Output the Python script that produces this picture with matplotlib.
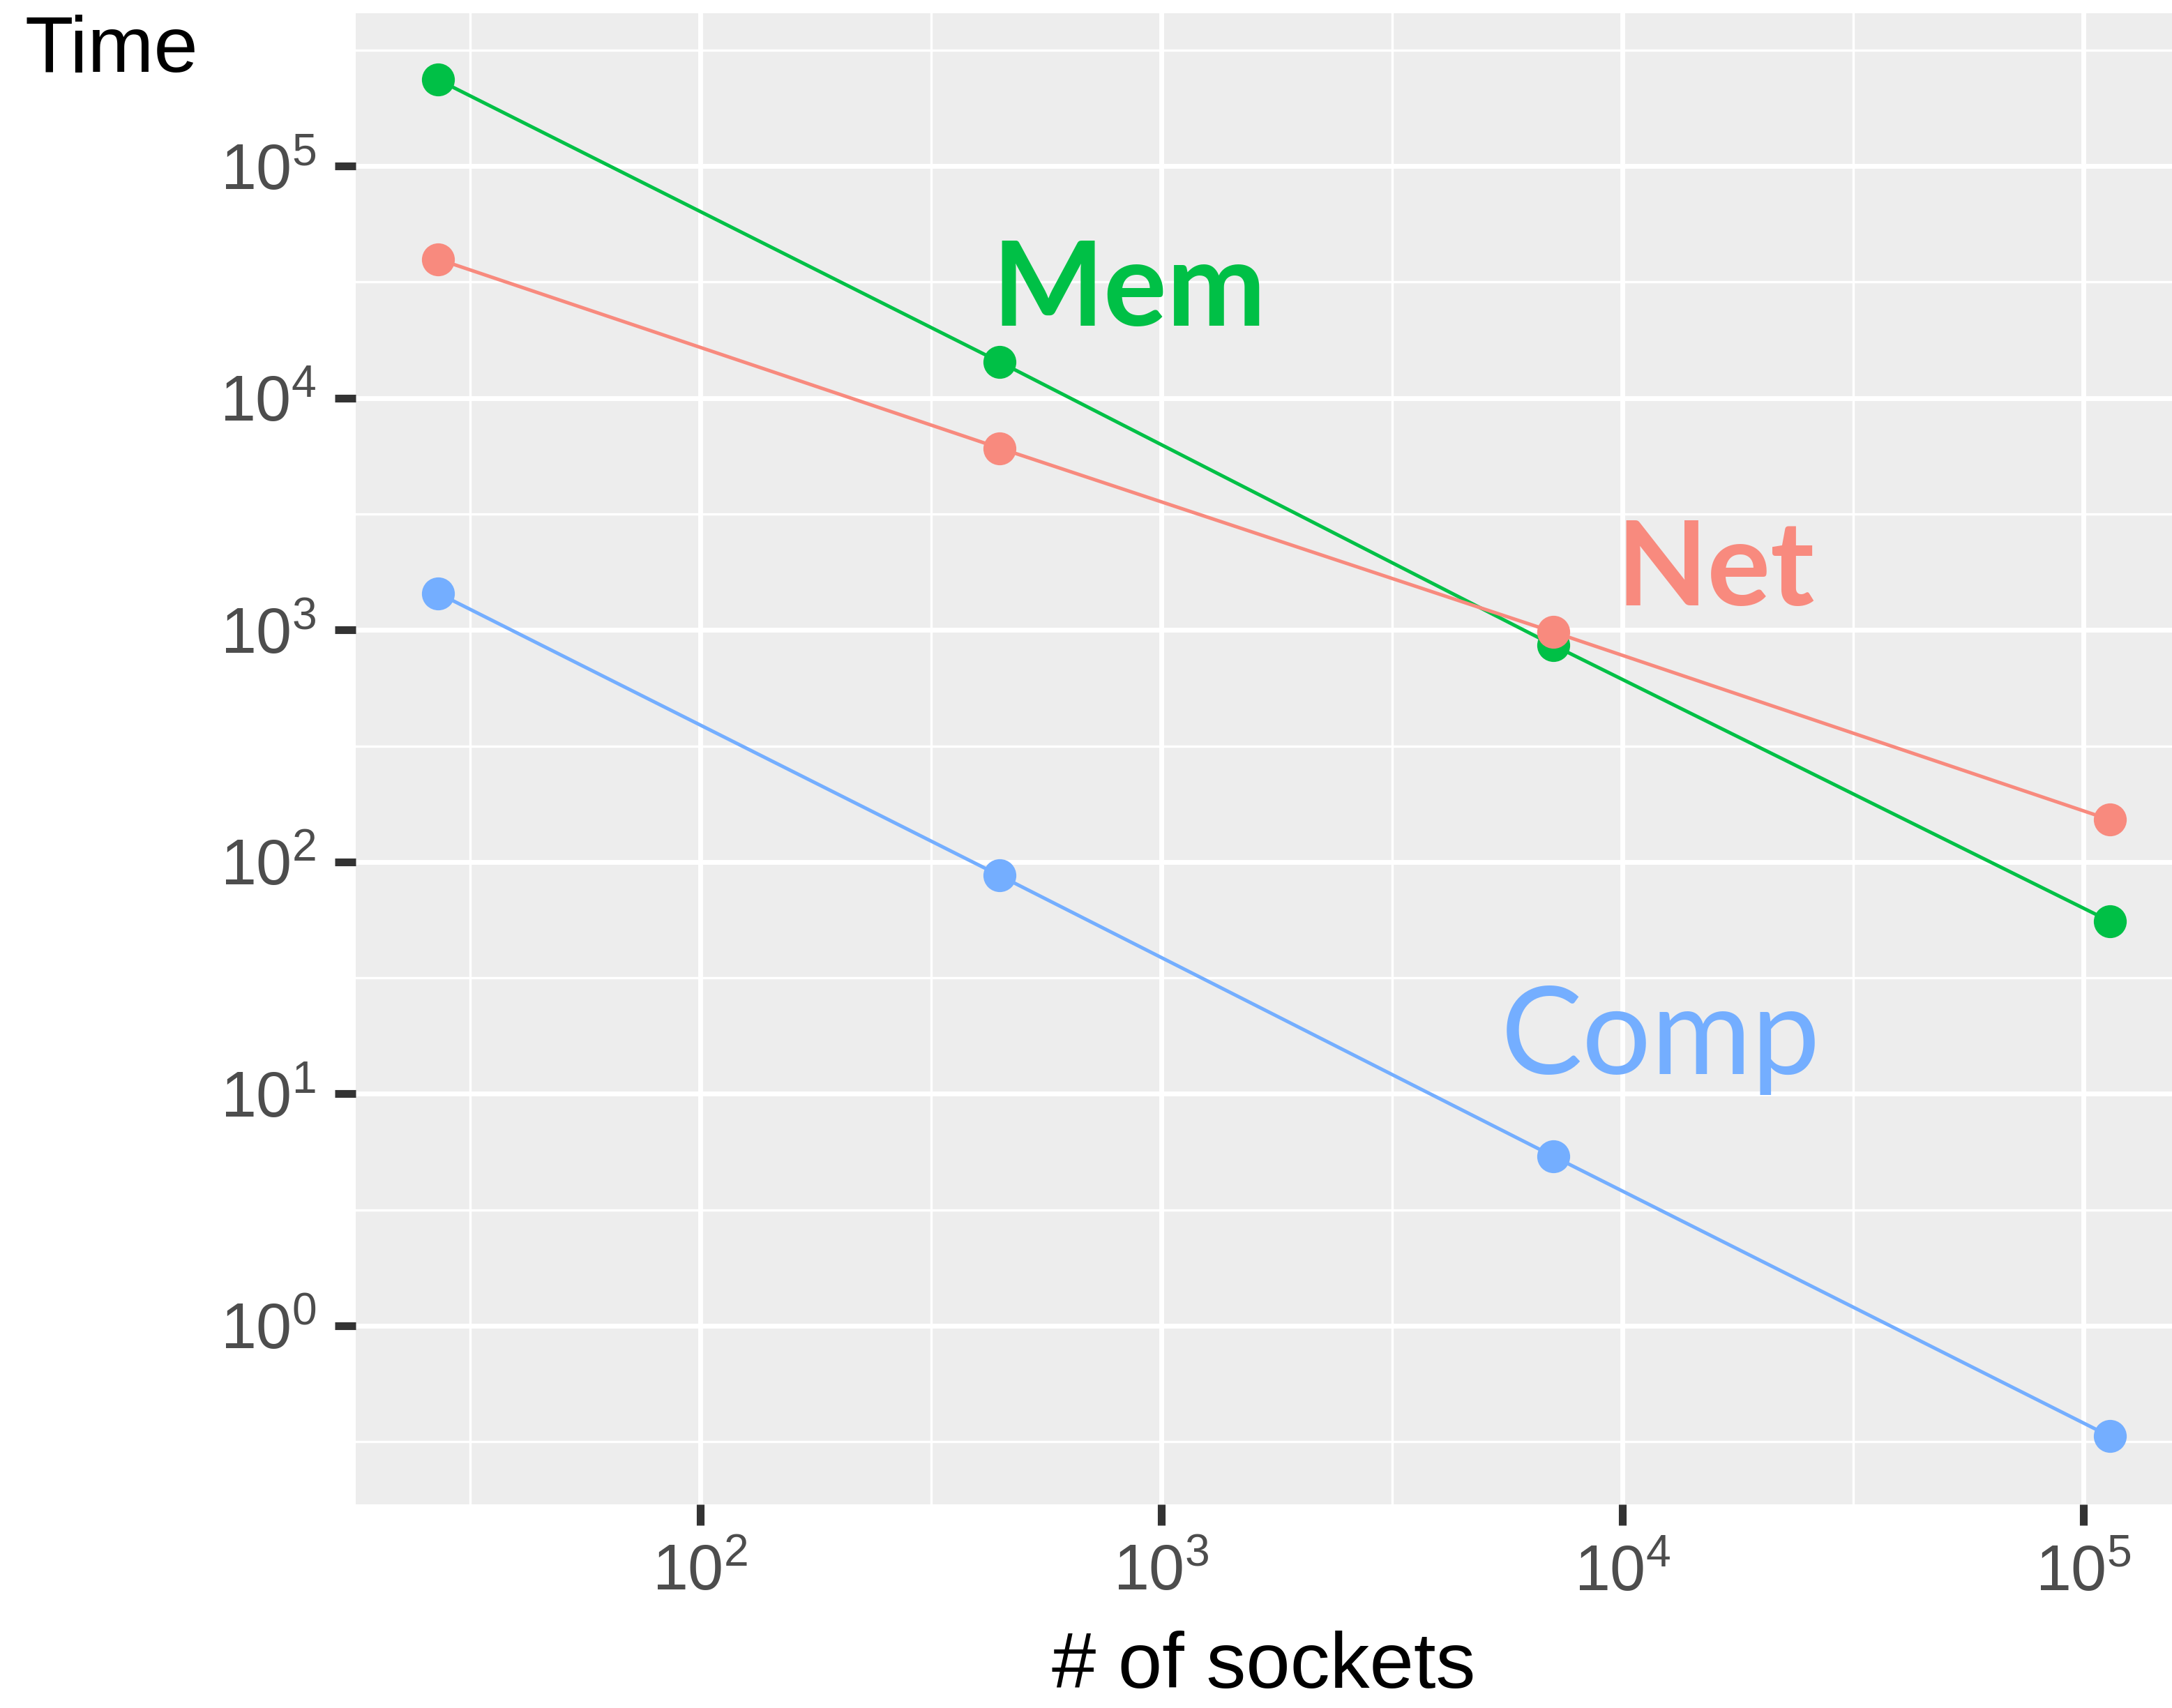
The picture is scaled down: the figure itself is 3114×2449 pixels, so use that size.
import numpy as np
import matplotlib
matplotlib.use("Agg")
import matplotlib.pyplot as plt
from matplotlib.ticker import FixedLocator, FuncFormatter

plt.rcParams['font.family'] = ['Liberation Sans', 'DejaVu Sans']
plt.rcParams['mathtext.default'] = 'regular'

# data
sockets = [27, 446, 7080, 114000]
net = [39700, 6080, 980, 152]
mem = [235600, 14300, 860, 55.5]
comp = [1440, 87.3, 5.38, 0.334]

series_names = ['Comp', 'Mem', 'Net']
series_values = [comp, mem, net]
colors = {'Net': '#F88A7E', 'Mem': '#00C046', 'Comp': '#74AEFF'}

# label anchors (left / baseline), data coords
label_pos = {'Mem': (430, 20500), 'Net': (9700, 1280), 'Comp': (5450, 12.2)}
label_weight = {'Mem': 'bold', 'Net': 'bold', 'Comp': 'normal'}
label_size = {'Mem': 61, 'Net': 61, 'Comp': 63}

W, H = 3114, 2449
dpi = 200
fig = plt.figure(figsize=(W / dpi, H / dpi), dpi=dpi)
ax = fig.add_axes([510 / W, 1 - 2157 / H, (W - 510) / W, (2157 - 19) / H])
ax.set_facecolor('#EDEDED')

ax.set_xscale('log')
ax.set_yscale('log')
ax.set_xlim(10 ** 1.2526, 10 ** 5.192)
ax.set_ylim(10 ** -0.770, 10 ** 5.659)

# lines first, then points (Net ends on top)
for name, vals in zip(series_names, series_values):
    ax.plot(sockets, vals, color=colors[name], lw=1.8, zorder=3)
for name, vals in zip(series_names, series_values):
    ax.plot(sockets, vals, 'o', color=colors[name], ms=17, mec='none', zorder=4)

for name in series_names:
    x, y = label_pos[name]
    ax.text(x, y, name, color=colors[name], fontsize=label_size[name], family='Lato',
            fontweight=label_weight[name], ha='left', va='baseline', zorder=5)

xmaj = [10.0 ** k for k in range(2, 6)]
xmin = [10.0 ** (k + 0.5) for k in range(1, 5)]
ymaj = [10.0 ** k for k in range(0, 6)]
ymin = [10.0 ** (k + 0.5) for k in range(-1, 6)]
fmt = FuncFormatter(lambda v, p: r'$10^{%d}$' % round(np.log10(v)))
ax.xaxis.set_major_locator(FixedLocator(xmaj))
ax.xaxis.set_minor_locator(FixedLocator(xmin))
ax.yaxis.set_major_locator(FixedLocator(ymaj))
ax.yaxis.set_minor_locator(FixedLocator(ymin))
ax.xaxis.set_major_formatter(fmt)
ax.yaxis.set_major_formatter(fmt)
ax.xaxis.set_minor_formatter(FuncFormatter(lambda v, p: ''))
ax.yaxis.set_minor_formatter(FuncFormatter(lambda v, p: ''))

ax.grid(True, which='major', color='white', lw=2.5)
ax.grid(True, which='minor', color='white', lw=1.2)
ax.set_axisbelow(True)
for s in ax.spines.values():
    s.set_visible(False)

ax.tick_params(which='major', length=10.8, width=4, color='#333333',
               labelcolor='#4D4D4D', labelsize=33, pad=9.5)
ax.tick_params(which='minor', length=0)

fig.text(36 / W, 1 - 103 / H, 'Time', fontsize=41, color='black',
         ha='left', va='baseline')
fig.text((510 + W) / 2 / W, 1 - 2420 / H, '# of sockets', fontsize=41,
         color='black', ha='center', va='baseline')

fig.savefig('out.png', dpi=dpi)
